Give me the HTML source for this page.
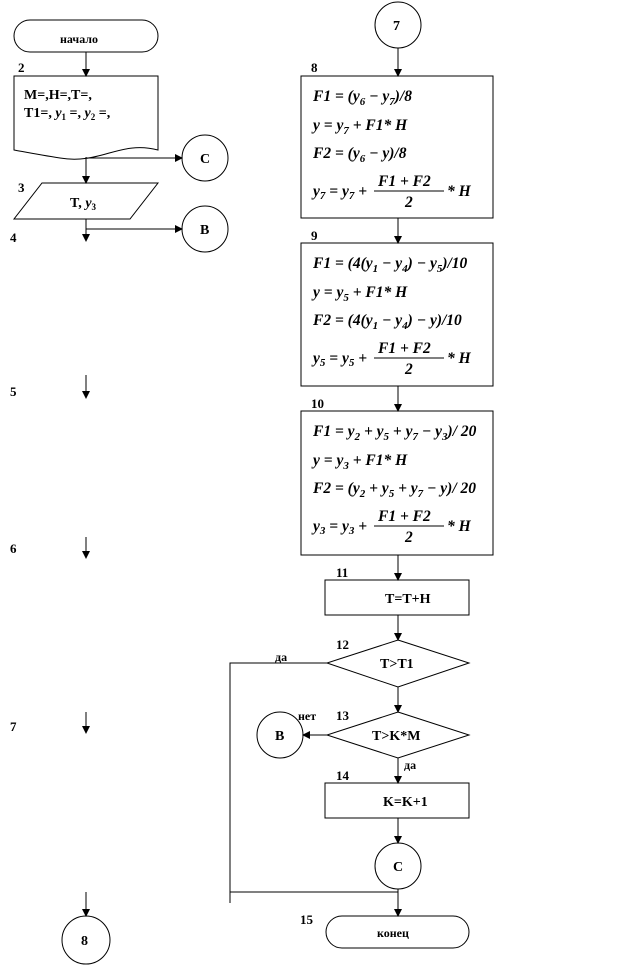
<!DOCTYPE html>
<html><head><meta charset="utf-8"><style>
body{margin:0;background:#fff}
svg{display:block}
text{font-family:"Liberation Serif",serif;font-weight:bold;fill:#000}
.f{font-style:italic;font-size:15.5px}
.n{font-size:13px}
.l{font-size:14px}
</style></head><body>
<svg width="638" height="966" viewBox="0 0 638 966" xmlns="http://www.w3.org/2000/svg">
<defs><marker id="a" markerWidth="8" markerHeight="8" refX="7" refY="4" orient="auto" markerUnits="userSpaceOnUse"><path d="M0,0 L8,4 L0,8z" fill="#000"/></marker></defs>
<g stroke="#000" stroke-width="1" fill="none">
<rect x="14" y="20" width="144" height="32" rx="16"/>
<line x1="86" y1="52" x2="86" y2="76" marker-end="url(#a)"/>
<path d="M14,76 H158 V150 C120,140 100,165 60,158 C40,155 25,152 14,150 Z"/>
<line x1="86" y1="157" x2="86" y2="183" marker-end="url(#a)"/>
<line x1="86" y1="158" x2="182" y2="158" marker-end="url(#a)"/>
<circle cx="205" cy="158" r="23"/>
<path d="M42,183 H158 L130,219 H14 Z"/>
<line x1="86" y1="219" x2="86" y2="241" marker-end="url(#a)"/>
<line x1="86" y1="229" x2="182" y2="229" marker-end="url(#a)"/>
<circle cx="205" cy="229" r="23"/>
<line x1="86" y1="375" x2="86" y2="398" marker-end="url(#a)"/>
<line x1="86" y1="537" x2="86" y2="558" marker-end="url(#a)"/>
<line x1="86" y1="712" x2="86" y2="733" marker-end="url(#a)"/>
<line x1="86" y1="892" x2="86" y2="916" marker-end="url(#a)"/>
<circle cx="86" cy="940" r="24"/>
<circle cx="398" cy="25" r="23"/>
<line x1="398" y1="48" x2="398" y2="76" marker-end="url(#a)"/>
<rect x="301" y="76" width="192" height="142"/>
<line x1="398" y1="218" x2="398" y2="243" marker-end="url(#a)"/>
<rect x="301" y="243" width="192" height="143"/>
<line x1="398" y1="386" x2="398" y2="411" marker-end="url(#a)"/>
<rect x="301" y="411" width="192" height="144"/>
<line x1="398" y1="555" x2="398" y2="580" marker-end="url(#a)"/>
<rect x="325" y="580" width="144" height="35"/>
<line x1="398" y1="615" x2="398" y2="640" marker-end="url(#a)"/>
<path d="M398,640 L469,663 L398,687 L327,663 Z"/>
<polyline points="327,663 230,663 230,903"/>
<line x1="398" y1="687" x2="398" y2="712" marker-end="url(#a)"/>
<path d="M398,712 L469,735 L398,758 L327,735 Z"/>
<line x1="327" y1="735" x2="303" y2="735" marker-end="url(#a)"/>
<circle cx="280" cy="735" r="23"/>
<line x1="398" y1="758" x2="398" y2="783" marker-end="url(#a)"/>
<rect x="325" y="783" width="144" height="35"/>
<line x1="398" y1="818" x2="398" y2="843" marker-end="url(#a)"/>
<circle cx="398" cy="866" r="23"/>
<line x1="398" y1="889" x2="398" y2="916" marker-end="url(#a)"/>
<line x1="230" y1="892" x2="398" y2="892"/>
<rect x="326" y="916" width="143" height="32" rx="16"/>
<line x1="374" y1="191" x2="444" y2="191"/>
<line x1="374" y1="358" x2="444" y2="358"/>
<line x1="374" y1="526" x2="444" y2="526"/>
</g>
<g class="n">
<text x="60" y="43" font-size="12">начало</text>
<text x="18" y="72">2</text><text x="18" y="192">3</text><text x="10" y="242">4</text>
<text x="10" y="396">5</text><text x="10" y="553">6</text><text x="10" y="731">7</text>
<text x="311" y="72">8</text><text x="311" y="240">9</text><text x="311" y="408">10</text>
<text x="336" y="577">11</text><text x="336" y="649">12</text><text x="336" y="720">13</text>
<text x="336" y="780">14</text><text x="300" y="924">15</text>
<text x="275" y="661" font-size="12">да</text><text x="298" y="720" font-size="12">нет</text><text x="404" y="769" font-size="12">да</text>
</g>
<g class="l">
<text x="24" y="99">M=,H=,T=,</text>
<text x="24" y="117">T1=, <tspan font-style="italic">y</tspan><tspan font-size="9" dy="3">1</tspan><tspan dy="-3"> =, </tspan><tspan font-style="italic">y</tspan><tspan font-size="9" dy="3">2</tspan><tspan dy="-3"> =,</tspan></text>
<text x="70" y="207">T, <tspan font-style="italic">y</tspan><tspan font-size="9" dy="3">3</tspan></text>
<text x="200" y="163">C</text><text x="200" y="234">B</text>
<text x="393" y="30">7</text><text x="81" y="945">8</text>
<text x="385" y="603">T=T+H</text>
<text x="380" y="668">T&gt;T1</text>
<text x="372" y="740">T&gt;K*M</text>
<text x="383" y="806">K=K+1</text>
<text x="393" y="871">C</text><text x="275" y="740">B</text>
<text x="377" y="937" font-size="12">конец</text>
</g>
<g class="f">
<text x="313" y="101">F1 = (y<tspan font-size="11" dy="4">6</tspan><tspan dy="-4"> − y</tspan><tspan font-size="11" dy="4">7</tspan><tspan dy="-4">)/8</tspan></text>
<text x="313" y="130">y = y<tspan font-size="11" dy="4">7</tspan><tspan dy="-4"> + F1* H</tspan></text>
<text x="313" y="158">F2 = (y<tspan font-size="11" dy="4">6</tspan><tspan dy="-4"> − y)/8</tspan></text>
<text x="313" y="196">y<tspan font-size="11" dy="3">7</tspan><tspan dy="-3"> = y</tspan><tspan font-size="11" dy="3">7</tspan><tspan dy="-3"> +</tspan></text>
<text x="378" y="186">F1 + F2</text><text x="405" y="207">2</text><text x="447" y="196">* H</text>

<text x="313" y="268">F1 = (4(y<tspan font-size="11" dy="4">1</tspan><tspan dy="-4"> − y</tspan><tspan font-size="11" dy="4">4</tspan><tspan dy="-4">) − y</tspan><tspan font-size="11" dy="4">5</tspan><tspan dy="-4">)/10</tspan></text>
<text x="313" y="297">y = y<tspan font-size="11" dy="4">5</tspan><tspan dy="-4"> + F1* H</tspan></text>
<text x="313" y="325">F2 = (4(y<tspan font-size="11" dy="4">1</tspan><tspan dy="-4"> − y</tspan><tspan font-size="11" dy="4">4</tspan><tspan dy="-4">) − y)/10</tspan></text>
<text x="313" y="363">y<tspan font-size="11" dy="3">5</tspan><tspan dy="-3"> = y</tspan><tspan font-size="11" dy="3">5</tspan><tspan dy="-3"> +</tspan></text>
<text x="378" y="353">F1 + F2</text><text x="405" y="374">2</text><text x="447" y="363">* H</text>

<text x="313" y="436">F1 = y<tspan font-size="11" dy="4">2</tspan><tspan dy="-4"> + y</tspan><tspan font-size="11" dy="4">5</tspan><tspan dy="-4"> + y</tspan><tspan font-size="11" dy="4">7</tspan><tspan dy="-4"> − y</tspan><tspan font-size="11" dy="4">3</tspan><tspan dy="-4">)/ 20</tspan></text>
<text x="313" y="465">y = y<tspan font-size="11" dy="4">3</tspan><tspan dy="-4"> + F1* H</tspan></text>
<text x="313" y="493">F2 = (y<tspan font-size="11" dy="4">2</tspan><tspan dy="-4"> + y</tspan><tspan font-size="11" dy="4">5</tspan><tspan dy="-4"> + y</tspan><tspan font-size="11" dy="4">7</tspan><tspan dy="-4"> − y)/ 20</tspan></text>
<text x="313" y="531">y<tspan font-size="11" dy="3">3</tspan><tspan dy="-3"> = y</tspan><tspan font-size="11" dy="3">3</tspan><tspan dy="-3"> +</tspan></text>
<text x="378" y="521">F1 + F2</text><text x="405" y="542">2</text><text x="447" y="531">* H</text>
</g>
</svg>
</body></html>
